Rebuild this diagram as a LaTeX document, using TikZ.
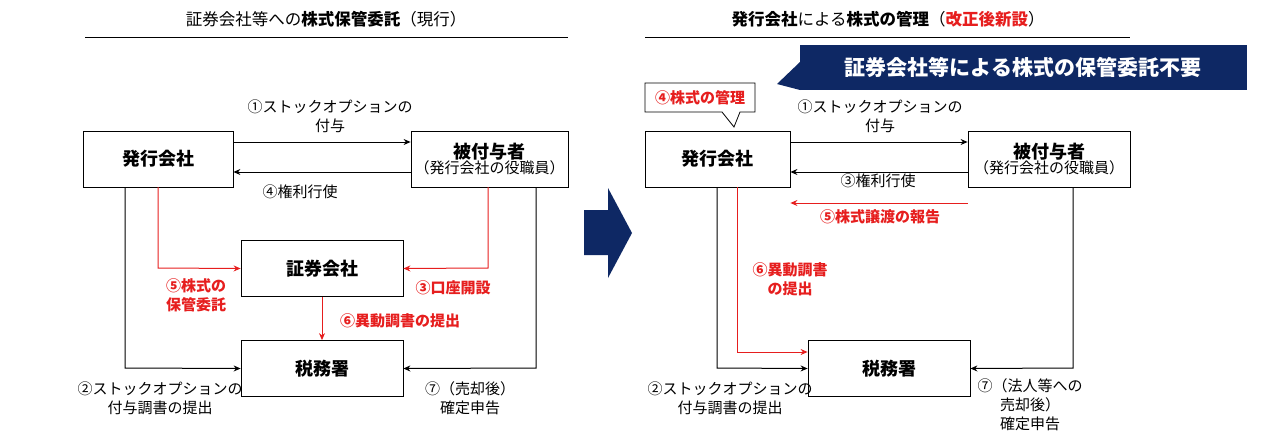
\documentclass[tikz,border=0pt]{standalone}
\usepackage{fontspec}
\usetikzlibrary{arrows.meta}
\setmainfont{Noto Sans CJK JP}
\definecolor{navy}{RGB}{14,40,100}
\definecolor{rd}{RGB}{230,30,30}
\begin{document}
\begin{tikzpicture}[x=1pt,y=-1pt,
  box/.style={draw,line width=0.8pt,minimum width=#1,minimum height=56pt,inner sep=0pt},
  lab/.style={font=\fontsize{15}{19}\selectfont,align=center,inner sep=1pt},
  rlab/.style={font=\fontsize{15}{19}\selectfont\bfseries,text=rd,align=center,inner sep=1pt},
  bl/.style={line width=1pt,-{Stealth[length=7pt,width=6pt]}},
  rl/.style={line width=1pt,draw=rd,-{Stealth[length=7pt,width=6pt]}}]
\useasboundingbox (0,0) rectangle (1262,447);
% left titles
\node[lab,font=\fontsize{16.5}{19}\selectfont] (t1) at (326,19) {証券会社等への\textbf{株式保管委託}（現行）};
\draw (85,37) -- (568,37);
\node[box=150pt] (a) at (158,159) {\textbf{\fontsize{18}{21}\selectfont 発行会社}};
\node[box=157pt,align=center] (b) at (489.5,159) {{\fontsize{18}{21}\selectfont\textbf{被付与者}}\\[-1pt]{\fontsize{15}{18}\selectfont （発行会社の役職員）}};
\node[box=162pt] (c) at (322,268.5) {\textbf{\fontsize{18}{21}\selectfont 証券会社}};
\node[box=162pt] (d) at (322,368.5) {\textbf{\fontsize{18}{21}\selectfont 税務署}};
\draw[bl] (a.east|-0,142) -- (b.west|-0,142);
\draw[bl] (b.west|-0,172) -- (a.east|-0,172);
\node[lab] (l1) at (330,116) {①ストックオプションの\\付与};
\node[lab] (l4) at (300,192) {④権利行使};
\draw[bl] (125,187) -- (125,368) -- (d.west);
\draw[bl] (536,187) -- (536,368) -- (d.east);
\node[lab] (l2) at (160,398) {②ストックオプションの\\付与調書の提出};
\node[lab] (l7) at (470,398) {⑦（売却後）\\確定申告};
\draw[rl] (158,187) -- (158,268) -- (c.west);
\draw[rl] (488,187) -- (488,268) -- (c.east);
\draw[rl] (c.south) -- (d.north);
\node[rlab] (l5) at (196,295) {⑤株式の\\保管委託};
\node[rlab] (l3) at (453,288) {③口座開設};
\node[rlab] (l6) at (400,321) {⑥異動調書の提出};
% big arrow
\fill[navy] (584,210) -- (608,210) -- (608,188) -- (632,233) -- (608,278) -- (608,255) -- (584,255) -- cycle;
% right
\node[lab,font=\fontsize{16.5}{19}\selectfont] (t2) at (888,19) {\textbf{発行会社}による\textbf{株式の管理}（\textbf{\textcolor{rd}{改正後新設}}）};
\draw (645,37) -- (1130,37);
\fill[navy] (800,45) rectangle (1247,90);
\fill[navy] (800,62) -- (777,84) -- (800,90) -- cycle;
\node[font=\fontsize{21}{24}\selectfont\bfseries,text=white] (bn) at (1023,67.5) {証券会社等による株式の保管委託不要};
\node[box=145pt] (e) at (717.5,159) {\textbf{\fontsize{18}{21}\selectfont 発行会社}};
\node[box=162pt,align=center] (f) at (1049,159) {{\fontsize{18}{21}\selectfont\textbf{被付与者}}\\[-1pt]{\fontsize{15}{18}\selectfont （発行会社の役職員）}};
\node[box=162pt] (g) at (889,368.5) {\textbf{\fontsize{18}{21}\selectfont 税務署}};
\draw[fill=white,line width=0.8pt] (645,83) -- (755,83) -- (755,112) -- (740,112) -- (734,127) -- (722,112) -- (645,112) -- cycle;
\node[rlab] (cl) at (700,97.5) {④株式の管理};
\draw[bl] (e.east|-0,142) -- (f.west|-0,142);
\draw[bl] (f.west|-0,172) -- (e.east|-0,172);
\node[lab] (r1) at (880,116) {①ストックオプションの\\付与};
\node[lab] (r3) at (878,181) {③権利行使};
\draw[rl] (f.west|-0,203) -- (e.east|-0,203);
\node[rlab] (r5) at (880,217) {⑤株式譲渡の報告};
\draw[bl] (717,187) -- (717,368) -- (g.west);
\draw[rl] (737,187) -- (737,352) -- (g.west|-0,352);
\node[rlab] (r6) at (790,279) {⑥異動調書\\の提出};
\draw[bl] (1073,187) -- (1073,368) -- (g.east);
\node[lab] (r2) at (730,398) {②ストックオプションの\\付与調書の提出};
\node[lab] (r7) at (1030,405) {⑦（法人等への\\売却後）\\確定申告};
\end{tikzpicture}
\end{document}
